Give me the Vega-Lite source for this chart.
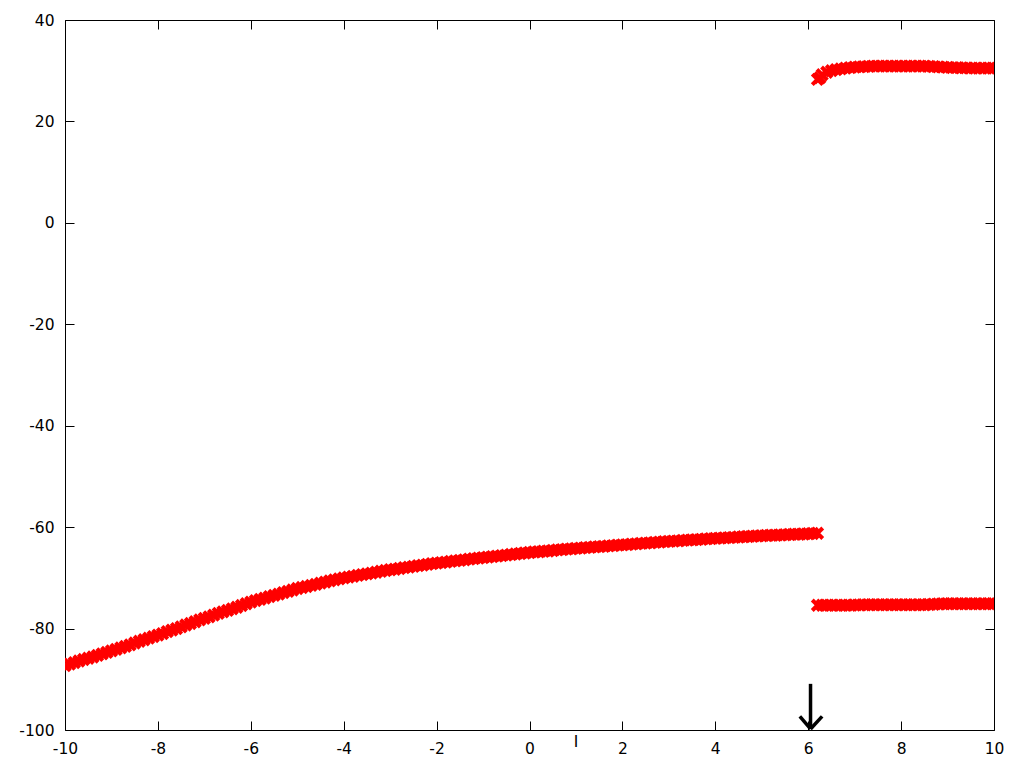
{
  "$schema": "https://vega.github.io/schema/vega-lite/v6.json",
  "width": 929,
  "height": 710,
  "autosize": {"type": "none"},
  "padding": {"left": 65, "top": 20, "right": 30, "bottom": 38},
  "background": "white",
  "config": {
    "view": {"stroke": "black", "strokeWidth": 1},
    "axis": {
      "grid": false,
      "domain": false,
      "tickColor": "black",
      "tickSize": -9,
      "tickWidth": 1,
      "labelFont": "DejaVu Sans",
      "labelFontSize": 15.5,
      "labelColor": "black",
      "labelFlush": false,
      "labelOverlap": false,
      "labelBound": false,
      "title": null
    }
  },
  "datasets": {
    "pts": [
      {"x":-10.0,"y":-87.3},{"x":-9.9,"y":-87.0},{"x":-9.8,"y":-86.7},{"x":-9.7,"y":-86.4},{"x":-9.6,"y":-86.1},{"x":-9.5,"y":-85.85},{"x":-9.4,"y":-85.6},{"x":-9.3,"y":-85.3},{"x":-9.2,"y":-85.0},{"x":-9.1,"y":-84.7},
      {"x":-9.0,"y":-84.4},{"x":-8.9,"y":-84.1},{"x":-8.8,"y":-83.8},{"x":-8.7,"y":-83.5},{"x":-8.6,"y":-83.2},{"x":-8.5,"y":-82.85},{"x":-8.4,"y":-82.5},{"x":-8.3,"y":-82.2},{"x":-8.2,"y":-81.9},{"x":-8.1,"y":-81.6},
      {"x":-8.0,"y":-81.3},{"x":-7.9,"y":-81.0},{"x":-7.8,"y":-80.6},{"x":-7.7,"y":-80.3},{"x":-7.6,"y":-80.0},{"x":-7.5,"y":-79.65},{"x":-7.4,"y":-79.3},{"x":-7.3,"y":-79.0},{"x":-7.2,"y":-78.65},{"x":-7.1,"y":-78.3},
      {"x":-7.0,"y":-78.0},{"x":-6.9,"y":-77.7},{"x":-6.8,"y":-77.35},{"x":-6.7,"y":-77.0},{"x":-6.6,"y":-76.7},{"x":-6.5,"y":-76.4},{"x":-6.4,"y":-76.1},{"x":-6.3,"y":-75.8},{"x":-6.2,"y":-75.45},{"x":-6.1,"y":-75.1},
      {"x":-6.0,"y":-74.8},{"x":-5.9,"y":-74.5},{"x":-5.8,"y":-74.25},{"x":-5.7,"y":-74.0},{"x":-5.6,"y":-73.7},{"x":-5.5,"y":-73.45},{"x":-5.4,"y":-73.2},{"x":-5.3,"y":-72.9},{"x":-5.2,"y":-72.65},{"x":-5.1,"y":-72.4},
      {"x":-5.0,"y":-72.1},{"x":-4.9,"y":-71.9},{"x":-4.8,"y":-71.7},{"x":-4.7,"y":-71.5},{"x":-4.6,"y":-71.3},{"x":-4.5,"y":-71.05},{"x":-4.4,"y":-70.85},{"x":-4.3,"y":-70.6},{"x":-4.2,"y":-70.4},{"x":-4.1,"y":-70.2},
      {"x":-4.0,"y":-70.0},{"x":-3.9,"y":-69.85},{"x":-3.8,"y":-69.7},{"x":-3.7,"y":-69.5},{"x":-3.6,"y":-69.35},{"x":-3.5,"y":-69.2},{"x":-3.4,"y":-69.05},{"x":-3.3,"y":-68.9},{"x":-3.2,"y":-68.7},{"x":-3.1,"y":-68.55},
      {"x":-3.0,"y":-68.4},{"x":-2.9,"y":-68.3},{"x":-2.8,"y":-68.15},{"x":-2.7,"y":-68.0},{"x":-2.6,"y":-67.9},{"x":-2.5,"y":-67.75},{"x":-2.4,"y":-67.6},{"x":-2.3,"y":-67.5},{"x":-2.2,"y":-67.35},{"x":-2.1,"y":-67.2},
      {"x":-2.0,"y":-67.1},{"x":-1.9,"y":-67.0},{"x":-1.8,"y":-66.9},{"x":-1.7,"y":-66.75},{"x":-1.6,"y":-66.65},{"x":-1.5,"y":-66.55},{"x":-1.4,"y":-66.45},{"x":-1.3,"y":-66.3},{"x":-1.2,"y":-66.2},{"x":-1.1,"y":-66.1},
      {"x":-1.0,"y":-66.0},{"x":-0.9,"y":-65.9},{"x":-0.8,"y":-65.8},{"x":-0.7,"y":-65.7},{"x":-0.6,"y":-65.6},{"x":-0.5,"y":-65.5},{"x":-0.4,"y":-65.4},{"x":-0.3,"y":-65.3},{"x":-0.2,"y":-65.2},{"x":-0.1,"y":-65.1},
      {"x":0.0,"y":-65.0},{"x":0.1,"y":-64.9},{"x":0.2,"y":-64.85},{"x":0.3,"y":-64.75},{"x":0.4,"y":-64.7},{"x":0.5,"y":-64.6},{"x":0.6,"y":-64.5},{"x":0.7,"y":-64.45},{"x":0.8,"y":-64.35},{"x":0.9,"y":-64.3},
      {"x":1.0,"y":-64.2},{"x":1.1,"y":-64.15},{"x":1.2,"y":-64.05},{"x":1.3,"y":-64.0},{"x":1.4,"y":-63.9},{"x":1.5,"y":-63.85},{"x":1.6,"y":-63.8},{"x":1.7,"y":-63.7},{"x":1.8,"y":-63.65},{"x":1.9,"y":-63.55},
      {"x":2.0,"y":-63.5},{"x":2.1,"y":-63.45},{"x":2.2,"y":-63.35},{"x":2.3,"y":-63.3},{"x":2.4,"y":-63.2},{"x":2.5,"y":-63.15},{"x":2.6,"y":-63.1},{"x":2.7,"y":-63.0},{"x":2.8,"y":-62.95},{"x":2.9,"y":-62.85},
      {"x":3.0,"y":-62.8},{"x":3.1,"y":-62.75},{"x":3.2,"y":-62.7},{"x":3.3,"y":-62.6},{"x":3.4,"y":-62.55},{"x":3.5,"y":-62.5},{"x":3.6,"y":-62.45},{"x":3.7,"y":-62.4},{"x":3.8,"y":-62.3},{"x":3.9,"y":-62.25},
      {"x":4.0,"y":-62.2},{"x":4.1,"y":-62.15},{"x":4.2,"y":-62.1},{"x":4.3,"y":-62.05},{"x":4.4,"y":-62.0},{"x":4.5,"y":-61.95},{"x":4.6,"y":-61.9},{"x":4.7,"y":-61.85},{"x":4.8,"y":-61.8},{"x":4.9,"y":-61.75},
      {"x":5.0,"y":-61.7},{"x":5.1,"y":-61.65},{"x":5.2,"y":-61.6},{"x":5.3,"y":-61.6},{"x":5.4,"y":-61.55},{"x":5.5,"y":-61.5},{"x":5.6,"y":-61.45},{"x":5.7,"y":-61.4},{"x":5.8,"y":-61.4},{"x":5.9,"y":-61.35},
      {"x":6.0,"y":-61.3},{"x":6.1,"y":-61.25},{"x":6.2,"y":-61.2},
      {"x":6.2,"y":28.3},{"x":6.25,"y":28.6},{"x":6.3,"y":29.2},{"x":6.4,"y":29.7},{"x":6.5,"y":30.0},{"x":6.6,"y":30.2},{"x":6.7,"y":30.35},{"x":6.8,"y":30.5},{"x":6.9,"y":30.6},
      {"x":7.0,"y":30.7},{"x":7.1,"y":30.75},{"x":7.2,"y":30.8},{"x":7.3,"y":30.85},{"x":7.4,"y":30.9},{"x":7.5,"y":30.9},{"x":7.6,"y":30.9},{"x":7.7,"y":30.9},{"x":7.8,"y":30.9},{"x":7.9,"y":30.9},
      {"x":8.0,"y":30.9},{"x":8.1,"y":30.9},{"x":8.2,"y":30.9},{"x":8.3,"y":30.9},{"x":8.4,"y":30.9},{"x":8.5,"y":30.9},{"x":8.6,"y":30.85},{"x":8.7,"y":30.8},{"x":8.8,"y":30.75},{"x":8.9,"y":30.7},
      {"x":9.0,"y":30.65},{"x":9.1,"y":30.6},{"x":9.2,"y":30.6},{"x":9.3,"y":30.55},{"x":9.4,"y":30.55},{"x":9.5,"y":30.5},{"x":9.6,"y":30.5},{"x":9.7,"y":30.5},{"x":9.8,"y":30.5},{"x":9.9,"y":30.5},{"x":10.0,"y":30.5},
      {"x":6.2,"y":-75.4},{"x":6.3,"y":-75.4},{"x":6.4,"y":-75.4},{"x":6.5,"y":-75.4},{"x":6.6,"y":-75.4},{"x":6.7,"y":-75.4},{"x":6.8,"y":-75.4},{"x":6.9,"y":-75.4},
      {"x":7.0,"y":-75.35},{"x":7.1,"y":-75.35},{"x":7.2,"y":-75.3},{"x":7.3,"y":-75.3},{"x":7.4,"y":-75.3},{"x":7.5,"y":-75.3},{"x":7.6,"y":-75.3},{"x":7.7,"y":-75.3},{"x":7.8,"y":-75.3},{"x":7.9,"y":-75.3},
      {"x":8.0,"y":-75.3},{"x":8.1,"y":-75.3},{"x":8.2,"y":-75.3},{"x":8.3,"y":-75.3},{"x":8.4,"y":-75.3},{"x":8.5,"y":-75.3},{"x":8.6,"y":-75.25},{"x":8.7,"y":-75.2},{"x":8.8,"y":-75.15},{"x":8.9,"y":-75.1},
      {"x":9.0,"y":-75.1},{"x":9.1,"y":-75.1},{"x":9.2,"y":-75.1},{"x":9.3,"y":-75.1},{"x":9.4,"y":-75.1},{"x":9.5,"y":-75.1},{"x":9.6,"y":-75.1},{"x":9.7,"y":-75.1},{"x":9.8,"y":-75.1},{"x":9.9,"y":-75.1},{"x":10.0,"y":-75.1}
    ],
    "arrow": [
      {"x":6.05,"y":-90.9,"x2":6.05,"y2":-99.8},
      {"x":5.82,"y":-97.3,"x2":6.05,"y2":-99.8},
      {"x":6.3,"y":-97.3,"x2":6.05,"y2":-99.8}
    ],
    "lbl": [{"x":1,"y":-100,"t":"I"}]
  },
  "layer": [
    {
      "data": {"name": "pts"},
      "mark": {"type": "point", "shape": "M-1,-1L1,1M1,-1L-1,1", "filled": false, "stroke": "#ff0000", "strokeWidth": 4, "size": 110, "opacity": 1, "clip": true},
      "encoding": {
        "x": {"field": "x", "type": "quantitative", "scale": {"domain": [-10, 10], "nice": false, "zero": false},
              "axis": {"orient": "bottom", "values": [-10,-8,-6,-4,-2,0,2,4,6,8,10], "labelPadding": 20, "labelExpr": "datum.value + ''"}},
        "y": {"field": "y", "type": "quantitative", "scale": {"domain": [-100, 40], "nice": false, "zero": false},
              "axis": {"orient": "left", "values": [-100,-80,-60,-40,-20,0,20,40], "labelPadding": 20, "labelExpr": "datum.value + ''"}}
      }
    },
    {
      "data": {"name": "arrow"},
      "mark": {"type": "rule", "color": "black", "strokeWidth": 3.5, "strokeCap": "butt"},
      "encoding": {
        "x": {"field": "x", "type": "quantitative", "axis": {"orient": "top", "labels": false, "values": [-10,-8,-6,-4,-2,0,2,4,6,8,10]}},
        "y": {"field": "y", "type": "quantitative", "axis": {"orient": "right", "labels": false, "values": [-100,-80,-60,-40,-20,0,20,40]}},
        "x2": {"field": "x2"},
        "y2": {"field": "y2"}
      }
    },
    {
      "data": {"name": "lbl"},
      "mark": {"type": "text", "font": "DejaVu Sans", "fontSize": 15.5, "baseline": "top", "align": "center", "dy": 5, "fill": "black", "color": "black"},
      "encoding": {
        "x": {"field": "x", "type": "quantitative", "axis": null},
        "y": {"field": "y", "type": "quantitative", "axis": null},
        "text": {"field": "t"}
      }
    }
  ],
  "resolve": {"axis": {"x": "independent", "y": "independent"}}
}
